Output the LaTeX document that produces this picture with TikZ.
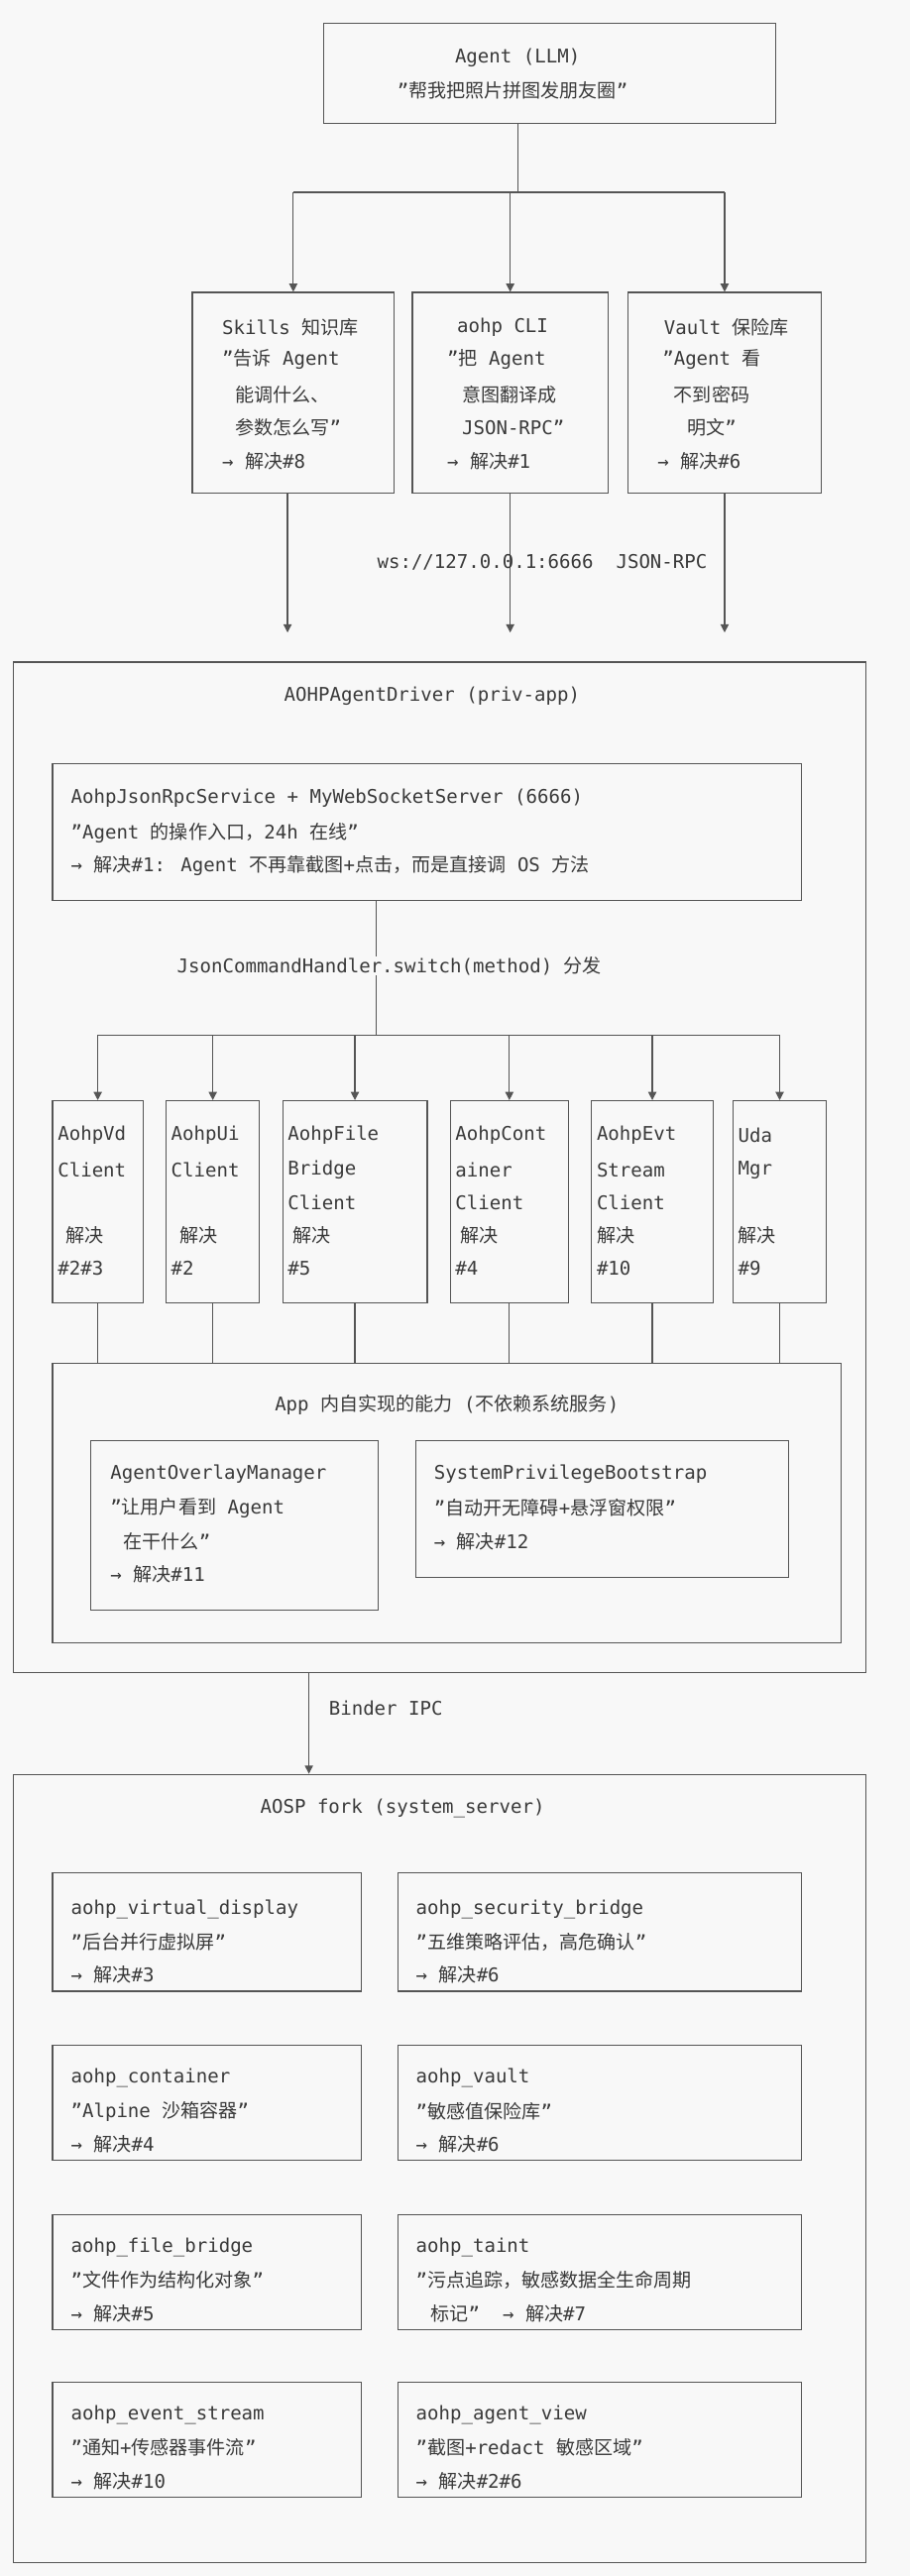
\documentclass[tikz,border=0pt]{standalone}
\usepackage{fontspec}
\setmainfont{DejaVu Sans Mono}[Ligatures=ResetAll]
\newfontfamily\cjk{Noto Sans CJK SC}[Ligatures=ResetAll]
\newcommand\zh[1]{{\cjk #1}}
\newcommand\dq{\symbol{34}}
\usetikzlibrary{fit,arrows.meta}
\definecolor{bg}{HTML}{F8F8F8}
\definecolor{ln}{HTML}{555555}
\definecolor{tx}{HTML}{3A3A3A}
\begin{document}
\begin{tikzpicture}[x=1pt,y=-1pt,
  box/.style={draw=ln,line width=0.7pt,inner sep=0pt},
  t/.style={anchor=west,inner sep=0pt,text=tx,font=\fontsize{11.5}{13}\selectfont},
  tc/.style={t,anchor=center},
  conn/.style={draw=ln,line width=0.7pt},
  arr/.style={conn,-{Triangle[length=5pt,width=5pt]}}]
\fill[bg] (0,0) rectangle (554,1568);
\useasboundingbox (0,0) rectangle (554,1568);
% Agent
\node[box,fit={(197,14) (472,75)}] (agent) {};
\node[tc] (agentT) at (315,35) {Agent (LLM)};
\node[tc] (agentQ) at (312,55) {\dq\zh{帮我把照片拼图发朋友圈}\dq};
% three boxes
\node[box,fit={(117,178) (240,300)}] (skills) {};
\node[box,fit={(251,178) (370,300)}] (cli) {};
\node[box,fit={(382,178) (500,300)}] (vault) {};
\coordinate (split) at (315,117);
\draw[conn] (agent.south -| split) -- (split);
\draw[conn] (split -| skills.north) -- (split -| vault.north);
\draw[arr] (split -| skills.north) -- (skills.north);
\draw[arr] (split -| cli.north) -- (cli.north);
\draw[arr] (split -| vault.north) -- (vault.north);
\node[t] (s1) at (135,199) {Skills \zh{知识库}};
\node[t] (s2) at (135,219) {\dq\zh{告诉} Agent};
\node[t] (s3) at (143,240) {\zh{能调什么、}};
\node[t] (s4) at (143,260) {\zh{参数怎么写}\dq};
\node[t] (s5) at (135,281) {→ \zh{解决}\#8};
\node[t] (c1) at (278,199) {aohp CLI};
\node[t] (c2) at (272,219) {\dq\zh{把} Agent};
\node[t] (c3) at (281,240) {\zh{意图翻译成}};
\node[t] (c4) at (281,260) {JSON-RPC\dq};
\node[t] (c5) at (272,281) {→ \zh{解决}\#1};
\node[t] (v1) at (404,199) {Vault \zh{保险库}};
\node[t] (v2) at (403,219) {\dq Agent \zh{看}};
\node[t] (v3) at (410,240) {\zh{不到密码}};
\node[t] (v4) at (418,260) {\zh{明文}\dq};
\node[t] (v5) at (400,281) {→ \zh{解决}\#6};
% driver
\node[box,fit={(8,403) (527,1018)}] (driver) {};
\draw[arr] (skills.south -| 175,0) -- (175,385);
\draw[arr] (cli.south) -- (cli.south |- 0,385);
\draw[arr] (vault.south) -- (vault.south |- 0,385);
\node[tc] (ws) at (330,342) {ws://127.0.0.1:6666\ \ JSON-RPC};
\node[tc] (drvT) at (263,424) {AOHPAgentDriver (priv-app)};
\node[box,fit={(32,465) (488,548)}] (rpc) {};
\node[t] (r1) at (43,486) {AohpJsonRpcService + MyWebSocketServer (6666)};
\node[t] (r2) at (43,507) {\dq Agent \zh{的操作入口，}24h \zh{在线}\dq};
\node[t] (r3) at (43,527) {→ \zh{解决}\#1: Agent \zh{不再靠截图}+\zh{点击，而是直接调} OS \zh{方法}};
\node[tc] (disp) at (237,588) {JsonCommandHandler.switch(method) \zh{分发}};
\coordinate (bus) at (229,630);
\draw[conn] (rpc.south -| bus) -- (disp.north -| bus);
\draw[conn] (disp.south -| bus) -- (bus);
% six client boxes
\node[box,fit={(32,670) (87,793)}] (k1) {};
\node[box,fit={(101,670) (158,793)}] (k2) {};
\node[box,fit={(172,670) (260,793)}] (k3) {};
\node[box,fit={(274,670) (346,793)}] (k4) {};
\node[box,fit={(360,670) (434,793)}] (k5) {};
\node[box,fit={(446,670) (503,793)}] (k6) {};
\draw[conn] (bus -| k1.north) -- (bus -| k6.north);
\foreach \k in {k1,k2,k3,k4,k5,k6} \draw[arr] (bus -| \k.north) -- (\k.north);
\node[t] at (35,691) {AohpVd}; \node[t] at (35,712) {Client};
\node[t] at (40,752) {\zh{解决}}; \node[t] at (35,772) {\#2\#3};
\node[t] at (104,691) {AohpUi}; \node[t] at (104,712) {Client};
\node[t] at (109,752) {\zh{解决}}; \node[t] at (104,772) {\#2};
\node[t] at (175,691) {AohpFile}; \node[t] at (175,712) {Bridge}; \node[t] at (175,732) {Client};
\node[t] at (178,752) {\zh{解决}}; \node[t] at (175,772) {\#5};
\node[t] at (277,691) {AohpCont}; \node[t] at (277,712) {ainer}; \node[t] at (277,732) {Client};
\node[t] at (280,752) {\zh{解决}}; \node[t] at (277,772) {\#4};
\node[t] at (363,691) {AohpEvt}; \node[t] at (363,712) {Stream}; \node[t] at (363,732) {Client};
\node[t] at (363,752) {\zh{解决}}; \node[t] at (363,772) {\#10};
\node[t] at (449,691) {Uda}; \node[t] at (449,712) {Mgr};
\node[t] at (449,752) {\zh{解决}}; \node[t] at (449,772) {\#9};
% App box
\node[box,fit={(32,830) (512,1000)}] (app) {};
\foreach \k in {k1,k2,k3,k4,k5,k6} \draw[conn] (\k.south) -- (app.north -| \k.south);
\node[tc] (appT) at (272,855) {App \zh{内自实现的能力} (\zh{不依赖系统服务})};
\node[box,fit={(55,877) (230,980)}] (ovl) {};
\node[t] at (67,897) {AgentOverlayManager};
\node[t] at (67,918) {\dq\zh{让用户看到} Agent};
\node[t] at (75,938) {\zh{在干什么}\dq};
\node[t] at (67,958) {→ \zh{解决}\#11};
\node[box,fit={(253,877) (480,960)}] (sys) {};
\node[t] at (264,897) {SystemPrivilegeBootstrap};
\node[t] at (264,918) {\dq\zh{自动开无障碍}+\zh{悬浮窗权限}\dq};
\node[t] at (264,938) {→ \zh{解决}\#12};
% AOSP
\node[box,fit={(8,1080) (527,1560)}] (aosp) {};
\draw[arr] (driver.south -| 188,0) -- (aosp.north -| 188,0);
\node[t] (binder) at (200,1040) {Binder IPC};
\node[tc] (aospT) at (245,1101) {AOSP fork (system\_server)};
% grid
\node[box,fit={(32,1140) (220,1212)}] (g1) {};
\node[box,fit={(242,1140) (488,1212)}] (g2) {};
\node[box,fit={(32,1245) (220,1315)}] (g3) {};
\node[box,fit={(242,1245) (488,1315)}] (g4) {};
\node[box,fit={(32,1348) (220,1418)}] (g5) {};
\node[box,fit={(242,1348) (488,1418)}] (g6) {};
\node[box,fit={(32,1450) (220,1520)}] (g7) {};
\node[box,fit={(242,1450) (488,1520)}] (g8) {};
\node[t] at (43,1162) {aohp\_virtual\_display};
\node[t] at (43,1182) {\dq\zh{后台并行虚拟屏}\dq};
\node[t] at (43,1202) {→ \zh{解决}\#3};
\node[t] at (253,1162) {aohp\_security\_bridge};
\node[t] at (253,1182) {\dq\zh{五维策略评估，高危确认}\dq};
\node[t] at (253,1202) {→ \zh{解决}\#6};
\node[t] at (43,1265) {aohp\_container};
\node[t] at (43,1285) {\dq Alpine \zh{沙箱容器}\dq};
\node[t] at (43,1305) {→ \zh{解决}\#4};
\node[t] at (253,1265) {aohp\_vault};
\node[t] at (253,1285) {\dq\zh{敏感值保险库}\dq};
\node[t] at (253,1305) {→ \zh{解决}\#6};
\node[t] at (43,1368) {aohp\_file\_bridge};
\node[t] at (43,1388) {\dq\zh{文件作为结构化对象}\dq};
\node[t] at (43,1408) {→ \zh{解决}\#5};
\node[t] at (253,1368) {aohp\_taint};
\node[t] at (253,1388) {\dq\zh{污点追踪，敏感数据全生命周期}};
\node[t] at (262,1408) {\zh{标记}\dq\ \ → \zh{解决}\#7};
\node[t] at (43,1470) {aohp\_event\_stream};
\node[t] at (43,1490) {\dq\zh{通知}+\zh{传感器事件流}\dq};
\node[t] at (43,1510) {→ \zh{解决}\#10};
\node[t] at (253,1470) {aohp\_agent\_view};
\node[t] at (253,1490) {\dq\zh{截图}+redact \zh{敏感区域}\dq};
\node[t] at (253,1510) {→ \zh{解决}\#2\#6};
\end{tikzpicture}
\end{document}
